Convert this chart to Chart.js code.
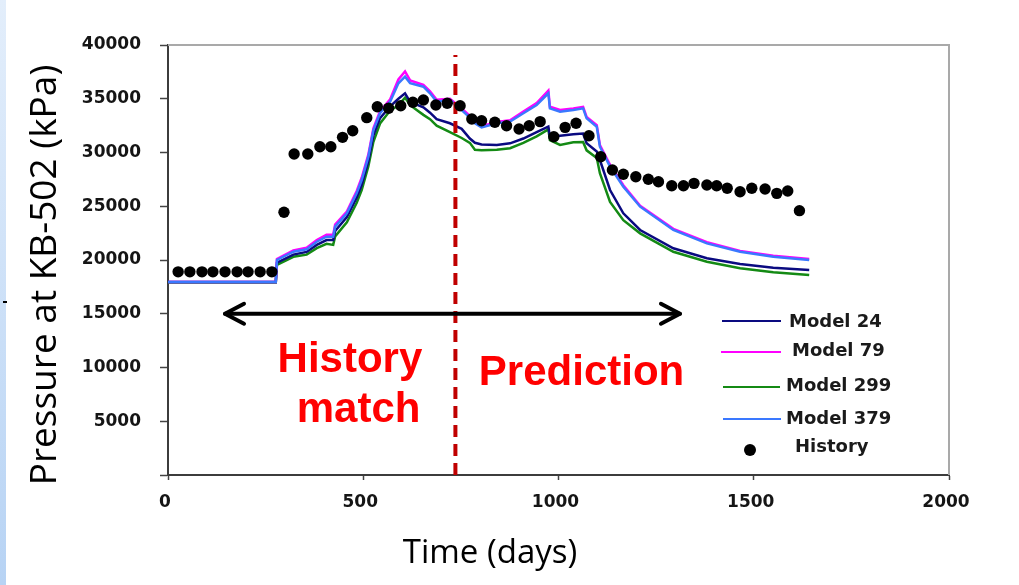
<!DOCTYPE html>
<html><head><meta charset="utf-8">
<script src="https://cdn.jsdelivr.net/npm/chart.js@4.4.1/dist/chart.umd.min.js"></script>
<style>
html,body{margin:0;padding:0;background:#fff;overflow:hidden}
#wrap{position:relative;width:1019px;height:585px}
#strip{position:absolute;left:0;top:0;width:6px;height:585px;background:linear-gradient(#e3eefb,#b7d3f4)}
#mark{position:absolute;left:3px;top:301px;width:4px;height:2px;background:#000}
canvas{position:absolute;left:0;top:0}
</style></head><body>
<div id="wrap"><div id="strip"></div><div id="mark"></div><canvas id="c" width="1019" height="585"></canvas></div>
<script>
// ---- data ----
const historyDays = [26,56,87,115,146,177,205,236,266,297,323,358,389,417,447,473,509,536,565,596,627,654,686,715,748,778,803,837,867,899,925,953,988,1017,1045,1078,1108,1138,1166,1198,1230,1256,1290,1320,1347,1380,1405,1432,1465,1495,1529,1559,1587,1617];
const historyPressure = [18900,18900,18900,18900,18900,18900,18900,18900,18900,24440,29860,29860,30540,30540,31410,32030,33240,34260,34110,34350,34670,34880,34420,34580,34350,33120,32960,32810,32490,32190,32490,32870,31470,32340,32720,31560,29610,28370,27970,27750,27510,27280,26910,26910,27130,26980,26910,26670,26350,26670,26600,26200,26420,24590];

const modelDays = [0,276,279,321,355,381,406,423,428,458,483,496,513,526,543,569,590,607,620,654,671,688,722,752,773,786,803,842,876,910,944,974,978,1004,1038,1063,1072,1098,1106,1132,1166,1209,1294,1380,1465,1550,1642];
const model24  = [17950,17950,19750,20500,20750,21400,21850,21850,22700,24000,25800,27000,29200,31600,33200,34300,35000,35500,34700,34200,33700,33100,32720,32200,31300,30900,30750,30700,30850,31300,31900,32400,31450,31550,31700,31770,30860,30100,29300,26510,24340,22790,21090,20160,19630,19280,19070];
const model79  = [17950,17950,20100,20900,21150,21850,22350,22350,23300,24500,26400,27650,29800,32250,33850,34950,36800,37550,36700,36300,35700,34900,35000,34100,33400,32850,32450,32850,33000,33800,34600,35750,34250,33950,34100,34250,33300,32550,30700,28850,26950,25050,22900,21650,20850,20400,20100];
const model299 = [17900,17900,19550,20300,20500,21100,21500,21400,22200,23500,25300,26500,28700,31000,32700,33900,34400,35100,34400,33500,33100,32500,31900,31350,30900,30250,30200,30250,30400,30900,31500,32150,31150,30700,30950,30980,30200,29500,28070,25400,23700,22480,20770,19840,19230,18860,18600];
const model379 = [17950,17950,20000,20770,21000,21700,22170,22170,23100,24340,26200,27440,29610,32090,33650,34730,36440,37050,36440,36120,35510,34730,34880,33950,33250,32720,32340,32720,32870,33650,34420,35510,34110,33800,33950,34110,33180,32400,30540,28680,26820,24960,22790,21550,20770,20310,20000];

const dividerDay = 736;              // history / prediction boundary
const dividerRange = [0, 39070];
const arrowDays = [146, 1311];
const arrowPressure = 15000;

const xTicks = [0, 500, 1000, 1500, 2000];
const yTicks = [0, 5000, 10000, 15000, 20000, 25000, 30000, 35000, 40000];

const seriesNames = ['Model 24', 'Model 79', 'Model 299', 'Model 379', 'History'];
const xTitle = 'Time (days)';
const yTitle = 'Pressure at KB-502 (kPa)';
const annotations = [
  {text: 'History', day: 466, value: 9610},
  {text: 'match', day: 488, value: 4960},
  {text: 'Prediction', day: 1059, value: 8370}
];

// ---- helpers ----
const pts = (xs, ys) => xs.map((x, i) => ({x, y: ys[i]}));
const colors = {m24: '#0a0a80', m79: '#ff00ff', m299: '#148a14', m379: '#3a78ff'};

const tickFont = {family: 'DejaVu Sans', size: 17, weight: 'bold'};

const framePlugin = {
  id: 'frame',
  beforeDatasetsDraw(chart) {
    const {ctx, chartArea: a} = chart;
    ctx.save();
    ctx.strokeStyle = '#a9a9a9';
    ctx.lineWidth = 2;
    ctx.beginPath();
    ctx.moveTo(a.left, a.top);
    ctx.lineTo(a.right, a.top);
    ctx.lineTo(a.right, a.bottom);
    ctx.stroke();
    ctx.restore();
  }
};

const yTitlePlugin = {
  id: 'yTitle',
  afterDraw(chart) {
    const {ctx, chartArea: a} = chart;
    ctx.save();
    ctx.translate(45, a.bottom - 200);
    ctx.rotate(-Math.PI / 2);
    ctx.font = "37px 'Open Sans'";
    ctx.fillStyle = '#000';
    ctx.textAlign = 'center';
    ctx.textBaseline = 'middle';
    ctx.fillText(yTitle, 0, 0);
    ctx.restore();
  }
};

const arrowPlugin = {
  id: 'arrowHeads',
  afterDatasetsDraw(chart) {
    const meta = chart.getDatasetMeta(1);
    const p = meta.data;
    if (!p || p.length < 2) return;
    const {ctx} = chart;
    ctx.save();
    ctx.strokeStyle = '#000';
    ctx.lineWidth = 4;
    ctx.lineCap = 'round';
    ctx.lineJoin = 'round';
    const a = p[0], b = p[p.length - 1];
    ctx.beginPath();
    ctx.moveTo(a.x + 19, a.y - 10); ctx.lineTo(a.x, a.y); ctx.lineTo(a.x + 19, a.y + 10);
    ctx.moveTo(b.x - 19, b.y - 10); ctx.lineTo(b.x, b.y); ctx.lineTo(b.x - 19, b.y + 10);
    ctx.stroke();
    ctx.restore();
  }
};

const annotationPlugin = {
  id: 'annotText',
  afterDatasetsDraw(chart) {
    const {ctx, scales: {x, y}} = chart;
    ctx.save();
    ctx.fillStyle = '#ff0000';
    ctx.font = "bold 42px 'Liberation Sans', Arial, sans-serif";
    ctx.textAlign = 'center';
    ctx.textBaseline = 'alphabetic';
    annotations.forEach(t => ctx.fillText(t.text, x.getPixelForValue(t.day), y.getPixelForValue(t.value)));
    ctx.restore();
  }
};

const legendPlugin = {
  id: 'customLegend',
  afterDraw(chart) {
    const {ctx} = chart;
    const rows = [
      {name: seriesNames[0], color: colors.m24,  x0: 722, x1: 781, ly: 321, tx: 789, ty: 322},
      {name: seriesNames[1], color: colors.m79,  x0: 721, x1: 781, ly: 352, tx: 792, ty: 351},
      {name: seriesNames[2], color: colors.m299, x0: 723, x1: 780, ly: 387, tx: 786, ty: 386},
      {name: seriesNames[3], color: colors.m379, x0: 723, x1: 781, ly: 419, tx: 786, ty: 419},
    ];
    ctx.save();
    ctx.font = "bold 18px 'DejaVu Sans'";
    ctx.textBaseline = 'middle';
    ctx.textAlign = 'left';
    rows.forEach(r => {
      ctx.strokeStyle = r.color; ctx.lineWidth = 2;
      ctx.beginPath(); ctx.moveTo(r.x0, r.ly); ctx.lineTo(r.x1, r.ly); ctx.stroke();
      ctx.fillStyle = '#1a1a1a';
      ctx.fillText(r.name, r.tx, r.ty);
    });
    ctx.fillStyle = '#000';
    ctx.beginPath(); ctx.arc(750, 450, 6, 0, Math.PI * 2); ctx.fill();
    ctx.fillStyle = '#1a1a1a';
    ctx.fillText(seriesNames[4], 795, 447);
    ctx.restore();
  }
};

const lineDs = (label, data, color) => ({
  label, data: pts(modelDays, data), borderColor: color, backgroundColor: color,
  borderWidth: 2.5, pointRadius: 0, tension: 0, fill: false
});

new Chart(document.getElementById('c'), {
  type: 'line',
  data: {
    datasets: [
      {label: 'History', data: pts(historyDays, historyPressure), showLine: false,
       pointRadius: 5.7, pointBorderWidth: 0, pointBackgroundColor: '#000', borderColor: '#000', backgroundColor: '#000'},
      {label: 'arrow', data: pts(arrowDays, arrowDays.map(() => arrowPressure)),
       borderColor: '#000', borderWidth: 4, pointRadius: 0, borderCapStyle: 'round'},
      {label: 'divider', data: pts([dividerDay, dividerDay], dividerRange),
       borderColor: '#c00000', borderWidth: 4, borderDash: [12, 7], pointRadius: 0},
      lineDs(seriesNames[3], model379, colors.m379),
      lineDs(seriesNames[1], model79, colors.m79),
      lineDs(seriesNames[0], model24, colors.m24),
      lineDs(seriesNames[2], model299, colors.m299)
    ]
  },
  options: {
    responsive: false, animation: false, devicePixelRatio: 1,
    layout: {padding: {left: 31, right: 70, top: 45, bottom: 0}},
    plugins: {
      legend: {display: false}, tooltip: {enabled: false},
      title: {display: true, text: xTitle, position: 'bottom', color: '#000',
        font: {family: 'Open Sans', size: 33, weight: 'normal'}, padding: {top: 0, bottom: 12}}
    },
    scales: {
      x: {
        type: 'linear', min: 0, max: 2000,
        afterFit: s => { s.height = 58.4; },
        afterBuildTicks: s => { s.ticks = xTicks.map(v => ({value: v})); },
        ticks: {font: tickFont, color: '#151515', padding: 12, labelOffset: -3, maxRotation: 0,
          callback: v => String(v)},
        grid: {drawOnChartArea: false, tickLength: 5, tickColor: '#444', tickWidth: 1.5},
        border: {color: '#3c3c3c', width: 2}
      },
      y: {
        type: 'linear', min: 0, max: 40000,
        afterFit: s => { s.width = 137; },
        afterBuildTicks: s => { s.ticks = yTicks.map(v => ({value: v})); },
        ticks: {font: tickFont, color: '#151515', padding: 19, callback: v => v === 0 ? '' : String(v)},
        grid: {drawOnChartArea: false, tickLength: 8, tickColor: '#444', tickWidth: 1.5},
        border: {color: '#3c3c3c', width: 2}
      }
    }
  },
  plugins: [framePlugin, arrowPlugin, annotationPlugin, legendPlugin, yTitlePlugin]
});
</script>
</body></html>
